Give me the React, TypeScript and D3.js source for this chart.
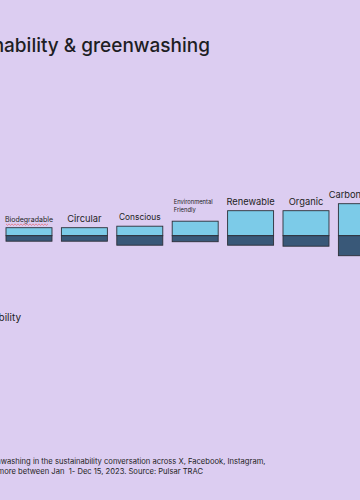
import * as d3 from "d3";

const categories = [
  "Biodegradable",
  "Circular",
  "Conscious",
  "Environmental Friendly",
  "Renewable",
  "Organic",
  "Carbon neutral",
];
// share of conversation (sustainability above the line, greenwashing below)
const sustainability = [8, 8, 9.5, 14.5, 25, 25, 32];
const greenwashing = [5.5, 5.5, 9.5, 6, 9.5, 10.5, 20];

const titleText = "Sustainability & greenwashing";
const legendText = "Sustainability";
const noteLines = [
  "Share of greenwashing in the sustainability conversation across X, Facebook, Instagram,",
  "Reddit, forums, blogs and more between Jan  1- Dec 15, 2023. Source: Pulsar TRAC",
];

const W = 360;
const H = 500;
const BG = "#dccdf1";
const LIGHT = "#7ccbe8";
const DARK = "#395878";
const INK = "#1e1e24";
const FONT = "Inter, 'Noto Sans', sans-serif";

// label font sizes per category (style, not data)
const labelSize: Record<string, number> = {
  Biodegradable: 7,
  Circular: 9.3,
  Conscious: 8.4,
  "Environmental Friendly": 5.8,
  Renewable: 9.3,
  Organic: 9.3,
  "Carbon neutral": 9.3,
};

export default function App() {
  const baseline = 235.7;
  const x = d3
    .scaleBand<string>()
    .domain(categories)
    .range([6, 6 + 55.4 * (categories.length - 0.17)])
    .paddingInner(0.17)
    .paddingOuter(0);
  const y = d3.scaleLinear().domain([-30, 40]).range([baseline + 30, baseline - 40]);

  // spell-check squiggle under the first label
  const bx = x(categories[0])!;
  const squiggle = d3.line()(
    d3.range(0, 43, 1.5).map((d, i) => [bx + d, 224.6 + (i % 2 ? 0.7 : -0.7)] as [number, number])
  );

  return (
    <svg
      width={W}
      height={H}
      style={{ position: "fixed", left: 0, top: 0, background: BG, fontFamily: FONT }}
    >
      <rect width={W} height={H} fill={BG} />
      <text x={210} y={51.5} textAnchor="end" fontSize={19} fontWeight={500} fill={INK}>
        {titleText}
      </text>

      {categories.map((c, i) => {
        const x0 = x(c)!;
        const bw = x.bandwidth();
        const top = y(sustainability[i]);
        const bot = y(-greenwashing[i]);
        const fs = labelSize[c];
        const two = c === "Environmental Friendly";
        return (
          <g key={c}>
            <rect x={x0} y={top} width={bw} height={y(0) - top} fill={LIGHT} stroke="#2c2f38" strokeWidth={0.9} />
            <rect x={x0} y={y(0)} width={bw} height={bot - y(0)} fill={DARK} stroke="#2c2f38" strokeWidth={0.9} />
            {two ? (
              <text x={x0 + 1.5} y={top - 17.5} fontSize={fs} fill={INK}>
                <tspan x={x0 + 1.5}>Environmental</tspan>
                <tspan x={x0 + 1.5} dy={8.3}>Friendly</tspan>
              </text>
            ) : (
              <text x={x0 + bw / 2} y={top - 6} textAnchor="middle" fontSize={fs} fill={INK}>
                {c}
              </text>
            )}
          </g>
        );
      })}
      <path d={squiggle ?? ""} fill="none" stroke="#e05050" strokeWidth={0.6} />

      <text x={21} y={321} textAnchor="end" fontSize={10} fill={INK}>
        {legendText}
      </text>

      <text x={265.5} y={464} textAnchor="end" fontSize={7.6} fill={INK} style={{ whiteSpace: "pre" }}>
        {noteLines[0]}
      </text>
      <text x={203} y={473.7} textAnchor="end" fontSize={7.6} fill={INK} style={{ whiteSpace: "pre" }}>
        {noteLines[1]}
      </text>
    </svg>
  );
}
